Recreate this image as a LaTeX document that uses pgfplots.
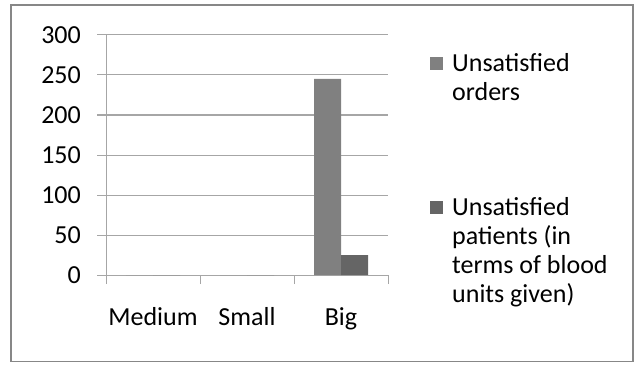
\documentclass[border=0pt]{standalone}
\usepackage{pgfplots}
\pgfplotsset{compat=1.18}
\usepackage{fontspec}
\setmainfont{Carlito}
\definecolor{ordersgray}{HTML}{808080}
\definecolor{patientsgray}{HTML}{656565}
\definecolor{gridgray}{HTML}{A6A6A6}
\definecolor{framegray}{HTML}{878787}
\newcommand{\entry}[1]{\begin{tabular}[t]{@{}l@{}}#1\end{tabular}}
\begin{document}
\begin{tikzpicture}[x=1bp,y=1bp]
\path[use as bounding box] (0,0) rectangle (636,365);
% chart frame
\draw[framegray, line width=1.5bp] (11,3.5) rectangle (633,360);
\begin{axis}[
  at={(106bp,90bp)}, anchor=south west,
  scale only axis, width=282bp, height=240bp,
  font=\fontsize{26bp}{29bp}\selectfont,
  /pgf/number format/assume math mode=true,
  ymin=0, ymax=300, ytick={0,50,...,300},
  xmin=-0.5, xmax=2.5,
  % category boundaries carry the tick marks, names sit between them
  xtick={-0.5,0.5,1.5,2.5}, xticklabels={},
  extra x ticks={0,1,2}, extra x tick labels={Medium,Small,Big},
  extra x tick style={major tick length=0pt, grid=none},
  axis x line*=bottom, axis y line*=left,
  xtick align=outside, ytick align=outside,
  major tick length=9bp,
  tick style={draw=gridgray, line width=1bp},
  axis line style={gridgray, line width=1bp},
  ymajorgrids, grid style={gridgray, line width=1bp},
  yticklabel style={inner sep=0pt, anchor=east, xshift=-16bp},
  xticklabel style={inner sep=0pt, anchor=north, yshift=-32bp},
  ybar=0pt, bar width=27bp,
  legend image code/.code={\fill[#1] (0bp,1.2bp) rectangle (13bp,14.2bp);},
  legend style={draw=none, fill=none, at={(1,1)}, anchor=north west,
    xshift=42bp, yshift=-16bp, inner sep=0pt, row sep=122bp,
    cells={anchor=base west},
    nodes={inner sep=0pt},
    /tikz/every odd column/.append style={column sep=9bp}},
]
\addplot[fill=ordersgray, draw=none] coordinates {(0,0) (1,0) (2,245)};
\addlegendentry{\entry{Unsatisfied\\orders}}
\addplot[fill=patientsgray, draw=none] coordinates {(0,0) (1,0) (2,25)};
\addlegendentry{\entry{Unsatisfied\\patients (in\\terms of blood\\units given)}}
\end{axis}
\end{tikzpicture}
\end{document}
